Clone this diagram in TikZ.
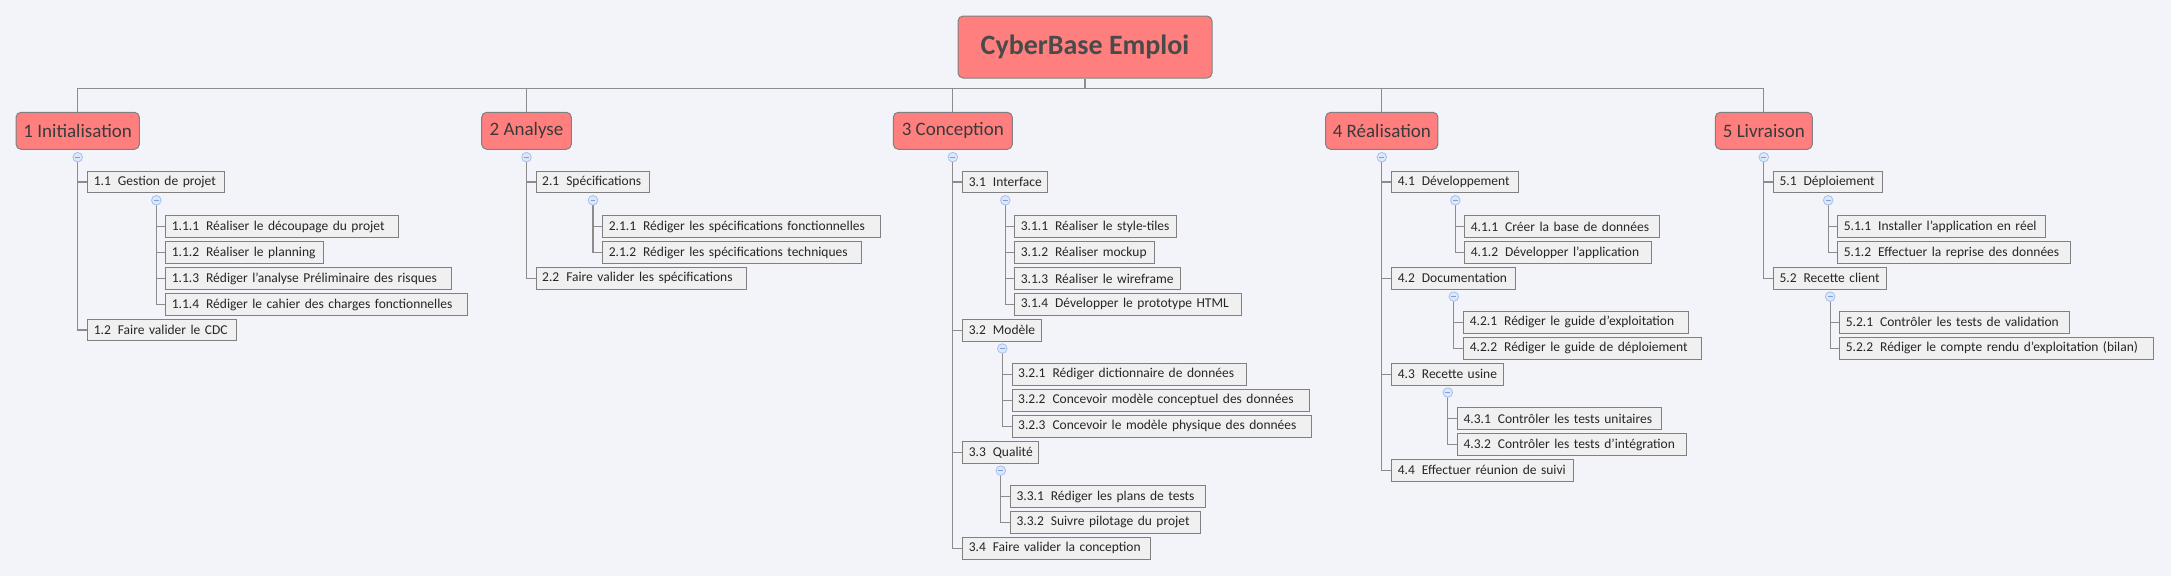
\documentclass[tikz,border=0pt]{standalone}
\usepackage{fontspec}
\setmainfont{Carlito}
\definecolor{bgc}{HTML}{F3F4F9}
\definecolor{mainfill}{HTML}{FF7F7F}
\definecolor{boxline}{HTML}{808080}
\definecolor{itemfill}{HTML}{F0F0F0}
\definecolor{conn}{HTML}{8C8C8C}
\definecolor{maintext}{HTML}{3A3A3A}
\definecolor{rootext}{HTML}{4A4A4A}
\definecolor{cfill}{HTML}{DCE7FA}
\definecolor{cline}{HTML}{A6C0EC}
\definecolor{cminus}{HTML}{7F9FD8}
\tikzset{
  rootbox/.style={draw=boxline, fill=mainfill, rounded corners=5pt, line width=1pt,
    minimum width=254pt, minimum height=62pt, inner sep=0pt,
    font=\fontsize{28}{30}\selectfont\bfseries, text=rootext},
  mainbox/.style={draw=boxline, fill=mainfill, rounded corners=5pt, line width=1pt,
    minimum height=37pt, inner sep=0pt, font=\fontsize{19}{21}\selectfont, text=maintext},
  itembox/.style={draw=boxline, fill=itemfill, line width=1pt, minimum height=21.6pt,
    inner xsep=6pt, inner ysep=0pt, align=left, font=\fontsize{13.5}{15}\selectfont, text=black!85},
  conline/.style={draw=conn, line width=1.2pt},
  collapse/.style={circle, draw=cline, fill=cfill, line width=0.8pt, minimum size=9.6pt, inner sep=0pt,
    path picture={\draw[cminus, line width=0.8pt] ([xshift=-2.4pt]path picture bounding box.center) -- ([xshift=2.4pt]path picture bounding box.center);}},
}
\newcommand\wbsitem[6]{%
  \pgfmathsetmacro\wbstw{#3-#2-13}%
  \node[itembox, anchor=west, text width=\wbstw pt] (#1) at (#2,#4) {\mbox{#5\hspace{7pt}#6}};}
\newcommand\wbsjoin[2]{\draw[conline] (#1) |- (#2.west);}
\begin{document}
\begin{tikzpicture}[x=1pt,y=-1pt]
\useasboundingbox (0,0) rectangle (2171,576);
\fill[bgc] (0,0) rectangle (2171,576);

% root and main topics
\node[rootbox] (root) at (1085,47) {CyberBase Emploi};
\node[mainbox, minimum width=123.3pt] (m1) at (77.7,130.8) {1 Initialisation};
\node[mainbox, minimum width=89.6pt] (m2) at (526.5,130.8) {2 Analyse};
\node[mainbox, minimum width=119pt] (m3) at (952.8,130.8) {3 Conception};
\node[mainbox, minimum width=112.3pt] (m4) at (1381.8,130.8) {4 Réalisation};
\node[mainbox, minimum width=97pt] (m5) at (1763.8,130.8) {5 Livraison};

\coordinate (bar) at (0,88.7);
\draw[conline] (root.south) -- (root.south |- bar);
\draw[conline] (m1.north) -- (m1.north |- bar) -- (m5.north |- bar) -- (m5.north);
\foreach \m in {m2,m3,m4} {\draw[conline] (\m.north) -- (\m.north |- bar);}

% ---------- 1 Initialisation
\wbsitem{s11}{87.3}{225.3}{182}{1.1}{Gestion de projet}
\wbsitem{s111}{165.3}{399}{226.5}{1.1.1}{Réaliser le découpage du projet}
\wbsitem{s112}{165.3}{324.3}{252.5}{1.1.2}{Réaliser le planning}
\wbsitem{s113}{165.3}{452.3}{278.5}{1.1.3}{Rédiger l'analyse Préliminaire des risques}
\wbsitem{s114}{165.3}{468.3}{304.5}{1.1.4}{Rédiger le cahier des charges fonctionnelles}
\wbsitem{s12}{87.3}{237.3}{330}{1.2}{Faire valider le CDC}

% ---------- 2 Analyse
\wbsitem{s21}{535.7}{650.3}{182}{2.1}{Spécifications}
\wbsitem{s211}{602.3}{880.7}{226.5}{2.1.1}{Rédiger les spécifications fonctionnelles}
\wbsitem{s212}{602.3}{862.3}{252.5}{2.1.2}{Rédiger les spécifications techniques}
\wbsitem{s22}{535.7}{747}{278.3}{2.2}{Faire valider les spécifications}

% ---------- 3 Conception
\wbsitem{s31}{962.3}{1048.3}{182}{3.1}{Interface}
\wbsitem{s311}{1014.3}{1177}{226.5}{3.1.1}{Réaliser le style-tiles}
\wbsitem{s312}{1014.3}{1155.3}{252.5}{3.1.2}{Réaliser mockup}
\wbsitem{s313}{1014.3}{1181.3}{278.5}{3.1.3}{Réaliser le wireframe}
\wbsitem{s314}{1014.3}{1242}{304.2}{3.1.4}{Développer le prototype HTML}
\wbsitem{s32}{962.3}{1042.3}{330.2}{3.2}{Modèle}
\wbsitem{s321}{1011.7}{1247.3}{374.2}{3.2.1}{Rédiger dictionnaire de données}
\wbsitem{s322}{1011.7}{1310.3}{400.2}{3.2.2}{Concevoir modèle conceptuel des données}
\wbsitem{s323}{1011.7}{1312.3}{426.2}{3.2.3}{Concevoir le modèle physique des données}
\wbsitem{s33}{962.3}{1039.3}{452.3}{3.3}{Qualité}
\wbsitem{s331}{1010}{1206.3}{496.5}{3.3.1}{Rédiger les plans de tests}
\wbsitem{s332}{1010}{1201.3}{522.2}{3.3.2}{Suivre pilotage du projet}
\wbsitem{s34}{962.3}{1151.3}{548.2}{3.4}{Faire valider la conception}

% ---------- 4 Réalisation
\wbsitem{s41}{1391.3}{1519.3}{182}{4.1}{Développement}
\wbsitem{s411}{1464.3}{1660.3}{226.5}{4.1.1}{Créer la base de données}
\wbsitem{s412}{1464.3}{1652.3}{252.5}{4.1.2}{Développer l'application}
\wbsitem{s42}{1391.3}{1516.3}{278.3}{4.2}{Documentation}
\wbsitem{s421}{1463.3}{1689.3}{322.2}{4.2.1}{Rédiger le guide d'exploitation}
\wbsitem{s422}{1463.3}{1702.3}{348.2}{4.2.2}{Rédiger le guide de déploiement}
\wbsitem{s43}{1391.3}{1504.3}{374.2}{4.3}{Recette usine}
\wbsitem{s431}{1457}{1662.3}{418.5}{4.3.1}{Contrôler les tests unitaires}
\wbsitem{s432}{1457}{1687.3}{444.5}{4.3.2}{Contrôler les tests d'intégration}
\wbsitem{s44}{1391.3}{1574.3}{470.2}{4.4}{Effectuer réunion de suivi}

% ---------- 5 Livraison
\wbsitem{s51}{1773}{1883.3}{182}{5.1}{Déploiement}
\wbsitem{s511}{1837.3}{2046.3}{226.5}{5.1.1}{Installer l'application en réel}
\wbsitem{s512}{1837.3}{2071.3}{252.5}{5.1.2}{Effectuer la reprise des données}
\wbsitem{s52}{1773}{1887.3}{278.3}{5.2}{Recette client}
\wbsitem{s521}{1839.3}{2070.3}{322.2}{5.2.1}{Contrôler les tests de validation}
\wbsitem{s522}{1839.3}{2154.3}{348.2}{5.2.2}{Rédiger le compte rendu d'exploitation (bilan)}

% collapse marker positions
\foreach \p in {m1,m2,m3,m4,m5} {\coordinate (k\p) at ([yshift=-7.4pt]\p.south);}
\foreach \p in {s11,s21,s31,s32,s33,s41,s42,s43,s51,s52} {\coordinate (k\p) at ([yshift=-7pt]\p.south);}

% connectors
\foreach \ch in {s11,s12} {\wbsjoin{km1}{\ch}}
\foreach \ch in {s111,s112,s113,s114} {\wbsjoin{ks11}{\ch}}
\foreach \ch in {s21,s22} {\wbsjoin{km2}{\ch}}
\foreach \ch in {s211,s212} {\wbsjoin{ks21}{\ch}}
\foreach \ch in {s31,s32,s33,s34} {\wbsjoin{km3}{\ch}}
\foreach \ch in {s311,s312,s313,s314} {\wbsjoin{ks31}{\ch}}
\foreach \ch in {s321,s322,s323} {\wbsjoin{ks32}{\ch}}
\foreach \ch in {s331,s332} {\wbsjoin{ks33}{\ch}}
\foreach \ch in {s41,s42,s43,s44} {\wbsjoin{km4}{\ch}}
\foreach \ch in {s411,s412} {\wbsjoin{ks41}{\ch}}
\foreach \ch in {s421,s422} {\wbsjoin{ks42}{\ch}}
\foreach \ch in {s431,s432} {\wbsjoin{ks43}{\ch}}
\foreach \ch in {s51,s52} {\wbsjoin{km5}{\ch}}
\foreach \ch in {s511,s512} {\wbsjoin{ks51}{\ch}}
\foreach \ch in {s521,s522} {\wbsjoin{ks52}{\ch}}

% collapse markers
\foreach \p in {m1,m2,m3,m4,m5,s11,s21,s31,s32,s33,s41,s42,s43,s51,s52}
  {\node[collapse] (c\p) at (k\p) {};}
\end{tikzpicture}
\end{document}
